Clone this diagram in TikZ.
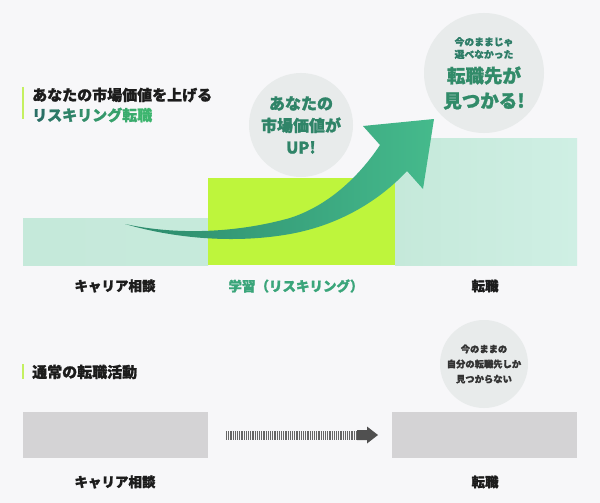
\documentclass[tikz,border=0pt]{standalone}
\usepackage{fontspec}
\newfontfamily\jp{Noto Sans CJK JP}[BoldFeatures={FakeBold=1.3}]
\definecolor{bg}{HTML}{F7F7F9}
\definecolor{mintA}{HTML}{C5E9DA}
\definecolor{mintB}{HTML}{CFEFE4}
\definecolor{lime}{HTML}{BEF53C}
\definecolor{grayboxc}{HTML}{D4D3D5}
\definecolor{bubblec}{HTML}{E8EBEB}
\definecolor{tealdk}{HTML}{2A6F66}
\definecolor{greenlt}{HTML}{3CB56E}
\definecolor{learnc}{HTML}{3AA57A}
\definecolor{arrA}{HTML}{2C8A6C}
\definecolor{arrM}{HTML}{34AA63}
\definecolor{arrB}{HTML}{45BA8C}
\definecolor{inkc}{HTML}{1C1C1C}
\definecolor{barc}{HTML}{C4F060}
\definecolor{stripec}{HTML}{666666}
\definecolor{headc}{HTML}{505050}
\newcommand{\gc}[2]{\textcolor{greenlt!#1!tealdk}{#2}}
\begin{document}
\begin{tikzpicture}[x=1pt,y=-1pt,
  box/.style={draw=none,inner sep=0pt,outer sep=0pt,minimum width=185pt,anchor=south west},
  bubble/.style={circle,fill=bubblec,draw=none,inner sep=0pt},
  lbl/.style={font=\jp\bfseries\fontsize{13.5}{16}\selectfont,text=inkc,inner sep=0pt},
  ttl/.style={font=\jp\bfseries\fontsize{15}{20}\selectfont,text=inkc,inner sep=0pt,anchor=west},
  bar/.style={draw=barc,line width=2pt},
  btxt/.style={font=\jp\bfseries,align=center,inner sep=0pt}]
\useasboundingbox (0,0) rectangle (600,503);
\fill[bg] (0,0) rectangle (600,503);

% ---- top section ----
\draw[bar] (23,87) coordinate (t1a) -- (23,119) coordinate (t1b);
\node[ttl] (t1) at (32,95) {あなたの市場価値を上げる};
\node[ttl] (t2) at (32,115) {\gc{0}{リ}\gc{14}{ス}\gc{28}{キ}\gc{43}{リ}\gc{57}{ン}\gc{71}{グ}\gc{86}{転}\gc{100}{職}};

\node[bubble,minimum size=104pt] (c1) at (301,125) {};
\node[btxt,text=tealdk!70!greenlt,font=\jp\bfseries\fontsize{16}{22}\selectfont] (c1t) at (c1) {あなたの\\市場価値が\\UP!};

\node[bubble,minimum size=120pt] (c2) at (484,73) {};
\node[btxt,text=tealdk!80!greenlt,font=\jp\bfseries\fontsize{9.8}{12.5}\selectfont] (c2s) at (484,48) {今のままじゃ\\選べなかった};
\node[btxt,text=tealdk!60!greenlt,font=\jp\bfseries\fontsize{18.5}{25}\selectfont] (c2b) at (484,88) {転職先が\\見つかる!};

\shade[box,left color=mintA,right color=mintA!85!mintB] (23,218) rectangle (208,265);
\node[box,minimum height=47pt,minimum width=185pt] (b1) at (23,265) {};
\fill[lime] (208,178) rectangle (395,265);
\node[box,minimum height=87pt,minimum width=187pt] (b2) at (208,265) {};
\shade[left color=mintA,right color=mintB] (395,138) rectangle (577,265);
\node[box,minimum height=127pt,minimum width=182pt] (b3) at (395,265) {};

% big curved arrow
\shade[left color=arrA,middle color=arrM,right color=arrB]
  (125,224) .. controls (180,236) and (240,232) .. (290,218)
  .. controls (330,205) and (360,175) .. (380,145)
  -- (363,126) -- (434,119) -- (423,189) -- (407,171)
  .. controls (380,200) and (340,225) .. (290,234)
  .. controls (240,243) and (180,240) .. (125,224) -- cycle;

\node[lbl] (l1) at (115,286) {キャリア相談};
\node[lbl,text=learnc] (l2) at (296,286) {学習（リスキリング）};
\node[lbl] (l3) at (485,286) {転職};

% ---- bottom section ----
\draw[bar] (23,364) coordinate (t3a) -- (23,379) coordinate (t3b);
\node[ttl] (t3) at (32,372) {通常の転職活動};

\node[bubble,minimum size=88pt] (c3) at (484,364) {};
\node[btxt,text=inkc!90,font=\jp\bfseries\fontsize{9.3}{15}\selectfont] (c3t) at (c3) {今のままの\\自分の転職先しか\\見つからない};

\fill[grayboxc] (23,412) rectangle (208,458);
\node[box,minimum height=46pt] (g1) at (23,458) {};
\fill[grayboxc] (392,412) rectangle (577,458);
\node[box,minimum height=46pt] (g2) at (392,458) {};

\coordinate (da) at (226,435);
\coordinate (db) at (357,435);
\draw[stripec,line width=9pt,dash pattern=on 1.1pt off 1.1pt] (da) -- (db);
\fill[headc] (db) ++(0,-5) -- ++(10,0) -- ++(0,-3.5) -- ++(11,8.5) -- ++(-11,8.5) -- ++(0,-3.5) -- ++(-10,0) -- cycle;

\node[lbl] (l4) at (115,482) {キャリア相談};
\node[lbl] (l5) at (485,482) {転職};
\end{tikzpicture}
\end{document}
